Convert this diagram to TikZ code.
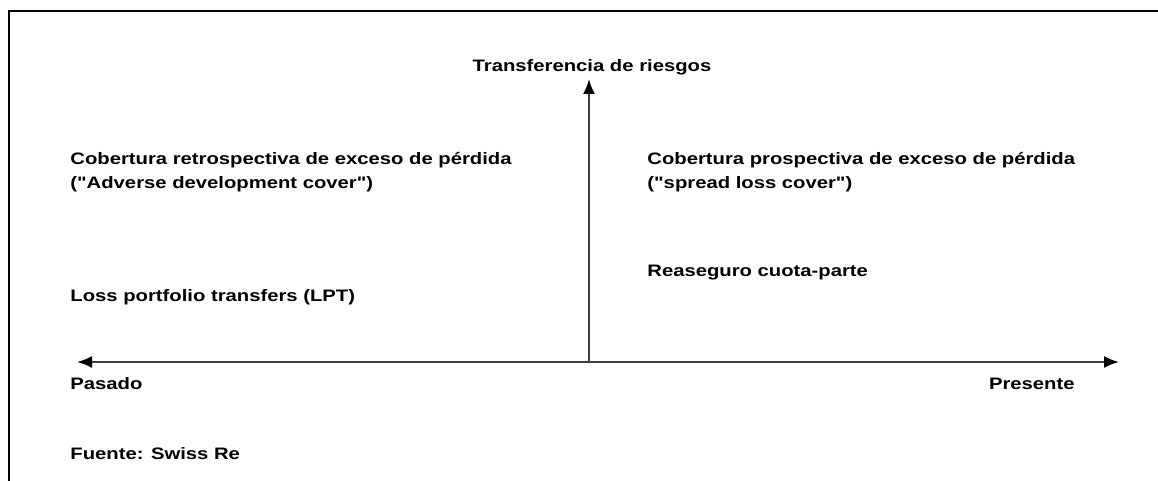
\documentclass[tikz,border=0pt]{standalone}
\usepackage{fontspec}
\setmainfont{Liberation Sans}[FakeStretch=1.22,Ligatures=TeXOff]
\usetikzlibrary{arrows.meta}

\begin{document}
\begin{tikzpicture}[x=0.5pt,y=-0.5pt,
        lbl/.style={inner sep=0pt, anchor=base west, align=left,
            font=\fontsize{8.3}{12}\selectfont\bfseries},
        axis/.style={line width=1pt, black!75, -{Latex[length=7.5pt,width=6pt,black]}}]
        \useasboundingbox (0,0) rectangle (1158,481);
        \draw[line width=1pt] (9,481) -- (9,11) -- (1158,11);
        % axes
        \coordinate (o) at (589,362);
        \coordinate (past) at (77,362);
        \coordinate (now) at (1119,362);
        \coordinate (top) at (589,79);
        \draw[axis] (o) -- (past);
        \draw[axis] (o) -- (now);
        \draw[axis] (o) -- (top);
        %%%
        \node[lbl, anchor=base] (riesgo) at (592,72) {Transferencia de riesgos};
        \node[lbl] (retro) at (70,189) {Cobertura retrospectiva de exceso de pérdida\\("Adverse development cover")};
        \node[lbl] (prosp) at (647,189) {Cobertura prospectiva de exceso de pérdida\\("spread loss cover")};
        \node[lbl] (cuota) at (647,277) {Reaseguro cuota-parte};
        \node[lbl] (lpt) at (70,301) {Loss portfolio transfers (LPT)};
        \node[lbl] (pasado) at (70,389) {Pasado};
        \node[lbl, anchor=base east] (presente) at (1075,389) {Presente};
        \node[lbl] (fuente) at (70,459) {Fuente: Swiss Re};
\end{tikzpicture}
\end{document}
